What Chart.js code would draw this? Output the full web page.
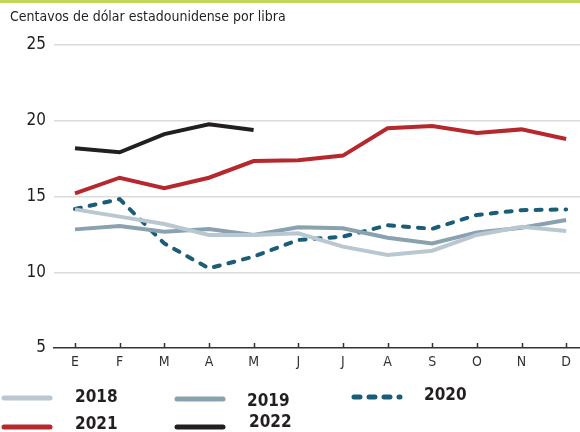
<!DOCTYPE html>
<html>
<head>
<meta charset="utf-8">
<script src="https://cdn.jsdelivr.net/npm/chart.js@4/dist/chart.umd.min.js"></script>
<style>
  html, body { margin: 0; padding: 0; background: #fff; }
  #wrap { width: 580px; height: 432px; position: relative; }
</style>
</head>
<body>
<div id="wrap"><canvas id="chart" width="580" height="432"></canvas></div>
<script>
// data
const months = ['E', 'F', 'M', 'A', 'M', 'J', 'J', 'A', 'S', 'O', 'N', 'D'];
const years = ['2018', '2019', '2020', '2021', '2022'];
const y2018 = [14.15, 13.67, 13.18, 12.46, 12.46, 12.57, 11.69, 11.14, 11.42, 12.46, 13.0, 12.72];
const y2019 = [12.83, 13.05, 12.68, 12.85, 12.46, 12.97, 12.9, 12.28, 11.9, 12.63, 12.94, 13.45];
const y2020 = [14.17, 14.83, 11.9, 10.26, 11.03, 12.13, 12.35, 13.1, 12.87, 13.78, 14.1, 14.15];
const y2021 = [15.2, 16.24, 15.54, 16.24, 17.34, 17.4, 17.7, 19.5, 19.65, 19.2, 19.43, 18.8];
const y2022 = [18.18, 17.92, 19.12, 19.77, 19.39];
const yTicks = [5, 10, 15, 20, 25];

const FONT = '"Liberation Sans Narrow", "DejaVu Sans Condensed", "Liberation Sans", sans-serif';
const colors = ['#b9c8d0', '#8aa1af', '#1b5d77', '#b5282e', '#231f20'];
const series = [y2018, y2019, y2020, y2021, y2022];

function toPoints(arr) {
  return arr.map((v, i) => ({ x: i, y: v }));
}

const datasets = series.map((s, i) => ({
  label: years[i],
  data: toPoints(s),
  borderColor: colors[i],
  borderWidth: 4,
  borderDash: i === 2 ? [6, 9] : [],
  borderCapStyle: i === 2 ? 'round' : 'butt',
  pointRadius: 0,
  tension: 0,
  fill: false
})).reverse(); // older years on top like the original? keep 2022 drawn last
datasets.reverse();

// legend slots (layout only)
const legendSlots = [
  { x: 2, y: 398, tx: 75, ty: 398 },
  { x: 175, y: 399, tx: 247, ty: 402 },
  { x: 352, y: 397, tx: 424, ty: 396 },
  { x: 2, y: 427, tx: 75, ty: 425 },
  { x: 175, y: 427, tx: 249, ty: 423 }
];

const decor = {
  id: 'decor',
  beforeDraw(chart) {
    const ctx = chart.ctx;
    ctx.save();
    ctx.fillStyle = '#c3d655';
    ctx.fillRect(0, 0, 580, 3);
    ctx.fillStyle = '#231f20';
    ctx.font = '14px ' + FONT;
    ctx.textBaseline = 'middle';
    ctx.fillText('Centavos de dólar estadounidense por libra', 10, 17);
    ctx.restore();
  },
  afterDraw(chart) {
    const ctx = chart.ctx;
    const xs = chart.scales.x;
    const y0 = chart.scales.y.getPixelForValue(5);
    ctx.save();
    // upward tick marks on the axis
    ctx.strokeStyle = '#333';
    ctx.lineWidth = 1.5;
    months.forEach((m, i) => {
      const px = Math.round(xs.getPixelForValue(i)) + 0.5;
      ctx.beginPath();
      ctx.moveTo(px, y0 - 5);
      ctx.lineTo(px, y0);
      ctx.stroke();
    });
    // legend
    chart.data.datasets.forEach((ds, i) => {
      const s = legendSlots[i];
      ctx.strokeStyle = ds.borderColor;
      ctx.lineWidth = 5;
      ctx.lineCap = 'round';
      ctx.setLineDash(ds.borderDash.length ? [6, 9] : []);
      ctx.beginPath();
      ctx.moveTo(s.x + 2, s.y);
      ctx.lineTo(s.x + 48, s.y);
      ctx.stroke();
      ctx.setLineDash([]);
      ctx.fillStyle = '#231f20';
      ctx.font = 'bold 17px ' + FONT;
      ctx.textBaseline = 'middle';
      ctx.fillText(ds.label, s.tx, s.ty);
    });
    ctx.restore();
  }
};

new Chart(document.getElementById('chart'), {
  type: 'line',
  data: { datasets: datasets },
  options: {
    responsive: false,
    animation: false,
    layout: { padding: { top: 45, right: 0, left: 0, bottom: 0 } },
    plugins: { legend: { display: false }, tooltip: { enabled: false } },
    scales: {
      x: {
        type: 'linear',
        min: -0.47,
        max: 11.31,
        afterBuildTicks: (scale) => { scale.ticks = months.map((m, i) => ({ value: i })); },
        afterFit: (scale) => { scale.height = 84; },
        grid: { display: false, drawTicks: false },
        border: { display: true, color: '#333', width: 1.5 },
        ticks: {
          autoSkip: false,
          maxRotation: 0,
          padding: 6,
          color: '#333',
          font: { family: FONT, size: 14 },
          callback: (v) => months[v]
        }
      },
      y: {
        min: 5,
        max: 25,
        afterBuildTicks: (scale) => { scale.ticks = yTicks.map(v => ({ value: v })); },
        afterFit: (scale) => { scale.width = 54; },
        grid: {
          drawTicks: false,
          lineWidth: 1.5,
          color: (c) => c.tick && c.tick.value === 5 ? 'rgba(0,0,0,0)' : '#dcdcdc'
        },
        border: { display: false },
        ticks: {
          padding: 8,
          color: '#231f20',
          font: { family: FONT, size: 17 }
        }
      }
    }
  },
  plugins: [decor]
});
</script>
</body>
</html>
